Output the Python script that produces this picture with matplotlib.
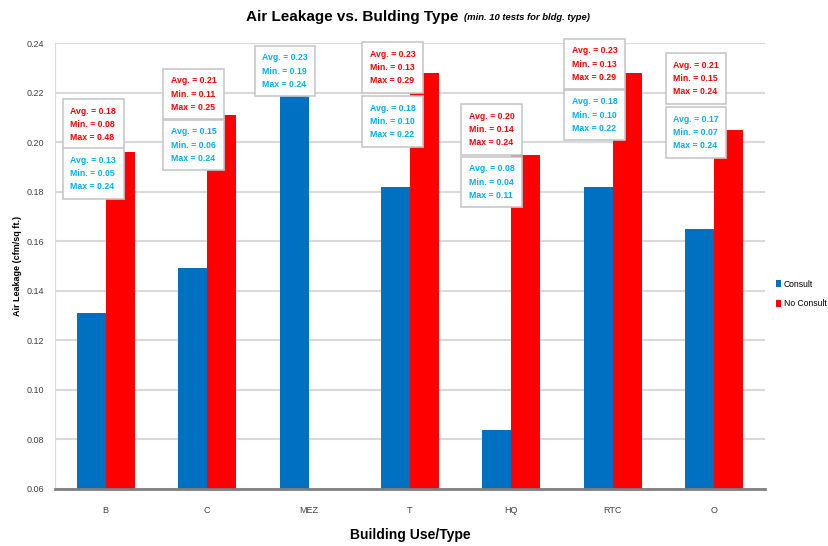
import matplotlib
matplotlib.use("Agg")
from matplotlib import pyplot as plt
import numpy as np

plt.rcParams['font.family'] = ['Liberation Sans', 'DejaVu Sans']

# Bar values (cfm/sq ft.)
categories = ["B", "C", "MEZ", "T", "HQ", "RTC", "O"]
consult    = [0.131, 0.149, 0.230, 0.182, 0.084, 0.182, 0.165]
no_consult = [0.196, 0.211, np.nan, 0.228, 0.195, 0.228, 0.205]

# Summary stats shown in the callouts (avg, min, max); None = no data
consult_stats = [(0.13, 0.05, 0.24), (0.15, 0.06, 0.24), (0.23, 0.19, 0.24),
                 (0.18, 0.10, 0.22), (0.08, 0.04, 0.11), (0.18, 0.10, 0.22),
                 (0.17, 0.07, 0.24)]
no_consult_stats = [(0.18, 0.08, 0.48), (0.21, 0.11, 0.25), None,
                    (0.23, 0.13, 0.29), (0.20, 0.14, 0.24), (0.23, 0.13, 0.29),
                    (0.21, 0.15, 0.24)]

# Callout placement: box centre offset from category centre, box centre heights
box_dx       = [-0.123, -0.133, -0.232, -0.173, -0.194, -0.182, -0.182]
red_box_mid  = [0.2071, 0.2194, None, 0.2301, 0.2051, 0.2315, 0.2257]
blue_box_mid = [0.1873, 0.1988, 0.2287, 0.2083, 0.1839, 0.2109, 0.2039]

BLUE = "#0070C0"
RED = "#FF0000"
TXT_BLUE = "#00B0F0"

fig = plt.figure(figsize=(8.29, 5.46), dpi=100)
ax = fig.add_axes([0.0663, 0.1044, 0.8565, 0.8168])

x = np.arange(len(categories))
w = 0.286
ax.bar(x - w / 2, consult, w, color=BLUE, label="Consult", zorder=2)
ax.bar(x + w / 2, no_consult, w, color=RED, label="No Consult", zorder=2)

yt = np.arange(0.06, 0.2401, 0.02)
ax.set_xlim(-0.5, len(categories) - 0.5)
ax.set_ylim(0.06, 0.24)
ax.set_yticks(yt)
ax.set_yticklabels([f"{v:.2f}" for v in yt])
ax.set_xticks(x)
ax.set_xticklabels(categories)
ax.tick_params(length=0, labelsize=6.5, colors="#404040", pad=12)
ax.tick_params(axis='y', pad=8)

ax.grid(axis='y', color="#D9D9D9", linewidth=1.5, zorder=0)
for s in ["top", "right"]:
    ax.spines[s].set_visible(False)
ax.spines["left"].set_color("#D9D9D9")
ax.spines["bottom"].set_color("#808080")
ax.spines["bottom"].set_linewidth(2)
ax.set_axisbelow(True)

fig.text(18 / 829, 1 - 266 / 546, "Air Leakage (cfm/sq ft.)", fontsize=6.5,
         fontweight="bold", rotation=90, ha="center", va="center")
fig.text(410 / 829, 1 - 535 / 546, "Building Use/Type", fontsize=10,
         fontweight="bold", ha="center", va="center")


def callout(xc, ymid, stats, color):
    avg, lo, hi = stats
    txt = f"Avg. = {avg:.2f}\nMin. = {lo:.2f}\nMax = {hi:.2f}"
    ax.text(xc, ymid, txt, color=color, fontsize=6.3, fontweight="bold",
            ha="center", va="center", multialignment="left", linespacing=1.6,
            zorder=5, clip_on=False,
            bbox=dict(boxstyle="square,pad=0.85", facecolor="white",
                      edgecolor="#C8C8C8", linewidth=1.2))


for i in range(len(categories)):
    xc = x[i] + box_dx[i]
    if no_consult_stats[i] is not None:
        callout(xc, red_box_mid[i], no_consult_stats[i], RED)
    callout(xc, blue_box_mid[i], consult_stats[i], TXT_BLUE)

# Title with an italic note after it, centred as one line
title = fig.text(0, 1 - 17 / 546, "Air Leakage vs. Bulding Type", fontsize=11,
                 fontweight="bold", ha="left", va="center")
note = fig.text(0, 1 - 18 / 546, "(min. 10 tests for bldg. type)", fontsize=6.8,
                fontweight="bold", fontstyle="italic", ha="left", va="center")
fig.canvas.draw()
r = fig.canvas.get_renderer()
tw = title.get_window_extent(r).width
nw = note.get_window_extent(r).width
gap = 5
start = 418 - (tw + gap + nw) / 2
title.set_x(start / 829)
note.set_x((start + tw + gap) / 829)

fig.legend(loc="center left", bbox_to_anchor=(776 / 829, 1 - 294 / 546),
           frameon=False, fontsize=6.2, handlelength=0.6, handleheight=0.9,
           handletextpad=0.3, labelspacing=1.2, borderaxespad=0, borderpad=0)

fig.savefig("out.png", dpi=100)
